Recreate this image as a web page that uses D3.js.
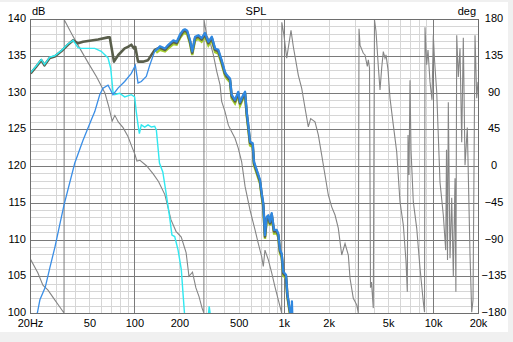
<!DOCTYPE html>
<html>
<head>
<meta charset="utf-8">
<script src="https://cdn.jsdelivr.net/npm/d3@7"></script>
<style>
  html, body { margin: 0; padding: 0; background: #f0f0f0; }
  svg { display: block; }
  text { font-family: "Liberation Sans", Arial, sans-serif; font-size: 11px; fill: #000; }
</style>
</head>
<body>
<svg id="chart" width="513" height="342"></svg>
<script>
// Axis ticks
const freqTicks = [20, 50, 100, 200, 500, 1000, 2000, 5000, 10000, 20000];
const freqLabels = ["20Hz", "50", "100", "200", "500", "1k", "2k", "5k", "10k", "20k"];
const splTicks = [100, 105, 110, 115, 120, 125, 130, 135, 140];
const phaseTicks = [-180, -135, -90, -45, 0, 45, 90, 135, 180];

// Summed response (Hz, dB)
const sumFreq = [20.2, 22.0, 23.8, 25.0, 27.1, 29.3, 32.4, 35.9, 38.9, 41.9, 45.3, 48.9, 57.1, 66.6, 68.4,
  73.0, 78, 86.1, 90.6, 95.4, 99.4, 101.5, 105.8, 114, 123.4, 136.8, 147.2,
  160.3, 168.7, 182.2, 192, 202, 212, 218, 226, 236, 244, 255, 268, 282, 297, 313, 330, 347, 365, 384,
  404, 415, 437, 448, 472, 496, 510, 536, 551, 565, 579, 595, 620, 632, 659, 694, 712, 730, 749, 769,
  789, 809, 831, 861, 898, 920, 944, 969, 994, 1036, 1057, 1090, 1114];
const sumDb = [132.6, 133.5, 134.4, 133.7, 134.7, 134.9, 135.6, 136.5, 137.1, 136.7, 136.9, 137.0, 137.2, 137.5, 137.5,
  134.2, 135.1, 136.0, 136.2, 136.5, 136.0, 136.2, 134.2, 134.2, 134.4, 135.8, 136.1,
  135.8, 136.3, 136.9, 136.7, 137.6, 138.3, 138.4, 138.2, 136.9, 135.4, 137.4, 137.6, 137.2, 137.9, 136.7, 137.4, 135.8, 135.6, 134.2,
  132.6, 132.2, 131.7, 129.5, 128.8, 129.9, 128.5, 129.5, 129.9, 127.2, 125.4, 123.1, 122.9, 120.4, 119.3, 117.9, 116.1, 114.7, 110.4, 112.9,
  113.1, 112.2, 113.4, 111.1, 111.1, 110.6, 108.4, 107.9, 105.4, 105.0, 102.5, 100.7, 99.5];

// Woofer (Hz, dB)
const wooferFreq = [20.2, 22.0, 23.8, 25.0, 27.1, 29.3, 32.4, 35.9, 38.9, 41.9, 44.0, 54.3, 60.0, 66.6, 69.4,
  71.9, 73.8, 79.6, 86.1, 95.4, 100.4, 102.9, 105.8, 108, 111.3, 117.2, 123.4, 129.9, 136.8, 140.3, 147.2,
  155.0, 163.1, 172.0, 178.5, 186.2, 196.0, 206.2, 211.6, 217.0, 240, 300, 312, 317, 324, 335];
const wooferDb = [132.7, 133.6, 134.5, 133.8, 134.8, 135.0, 135.7, 136.6, 137.1, 136.1, 136.0, 136.0, 135.6, 134.7, 133.3,
  130.1, 129.7, 129.9, 129.4, 129.7, 129.4, 127.4, 125.6, 124.4, 125.6, 125.3, 125.6, 125.3, 125.4, 124.9, 120.4,
  119.2, 116.3, 113.1, 110.6, 110.4, 108.6, 105.9, 102.7, 99.7, 95, 97.5, 99.5, 100.9, 99.5, 97.5];

// Mid driver (Hz, dB)
const midFreq = [21.5, 22.4, 23.3, 25.3, 27.2, 29.4, 31.1, 33.8, 39.9, 45.3, 51.5, 54.3, 58.6, 61.7, 66.6, 69.4,
  71.9, 77.7, 86.1, 95.4, 101.5, 105.8, 111.3, 120.2, 126.7, 136.8, 143.9, 148.4,
  160.3, 168.7, 182.2, 192, 202, 212, 218, 226, 236, 244, 255, 268, 282, 297, 313, 330, 347, 365, 384,
  404, 415, 437, 448, 472, 496, 510, 536, 551, 565, 579, 595, 620, 632, 659, 694, 712, 730, 749, 769,
  789, 809, 831, 861, 898, 920, 944, 969, 994, 1036, 1057, 1090, 1114, 1125, 1135, 1145];
const midDb = [98.5, 100.0, 101.8, 103.5, 106.2, 109.0, 111.3, 114.7, 120.4, 123.5, 126.3, 127.4, 129.7, 130.6, 131.0, 130.3,
  129.7, 130.6, 131.5, 132.6, 133.7, 131.3, 131.5, 132.2, 133.7, 135.6, 136.0, 136.3,
  136.0, 136.5, 137.1, 136.9, 137.9, 138.5, 138.6, 138.4, 137.1, 135.6, 137.6, 137.8, 137.4, 138.1, 136.9, 137.6, 136.0, 135.8, 134.4,
  132.8, 132.4, 131.9, 129.7, 129.0, 130.1, 128.7, 129.7, 130.1, 127.4, 125.6, 123.3, 123.1, 120.6, 119.5, 118.1, 116.3, 114.9, 110.6, 113.1,
  113.3, 112.4, 113.6, 111.3, 111.3, 110.8, 108.6, 108.1, 105.6, 105.2, 102.7, 100.9, 99.7, 99.0, 101.6, 99.0];

// Passive filter variant (Hz, dB)
const altFreq = [140, 148.4, 160.3, 168.7, 182.2, 192, 202, 212, 218, 226, 236, 244, 255, 268, 282, 297, 313, 330, 347, 365, 384,
  404, 415, 437, 448, 472, 496, 510, 536, 551, 565, 579, 595, 620, 632, 659, 694, 712, 730, 749, 769,
  789, 809, 831, 861, 898, 920, 944, 969, 994, 1036, 1057, 1090, 1114];
const altDb = [135.4, 135.8, 135.6, 136.0, 136.6, 136.5, 137.4, 138.0, 138.1, 137.9, 136.6, 135.1, 137.1, 137.3, 136.9, 137.6, 136.4, 137.1, 135.5, 135.3, 133.9,
  132.3, 131.9, 131.4, 129.2, 128.5, 129.6, 128.2, 129.2, 129.6, 126.9, 125.0, 122.8, 122.6, 120.1, 119.0, 117.6, 115.8, 114.3, 110.1, 112.6,
  112.8, 111.9, 113.1, 110.8, 110.8, 110.3, 108.1, 107.6, 105.1, 104.7, 102.2, 100.4, 99.2];

// Phase of the summed response (Hz, degrees)
const phaseFreq = [20, 22.6, 24.4, 26.4, 29.3, 31.5, 33.8,
  33.9, 38.0, 41.9, 49.2, 55.9, 63.6, 67.5, 71, 74, 78, 84, 90.6, 96, 101, 104, 109, 121, 134, 145, 160, 176, 190, 206,
  222, 232, 245, 258, 271, 284, 292,
  292.6, 305, 321, 338, 356, 375, 384, 404, 426, 448, 472, 496, 523, 551, 595, 642, 676, 712, 730, 749, 789, 831, 874, 920, 969,
  971, 1004, 1047, 1119, 1160, 1253, 1320, 1389, 1461, 1516, 1620, 1705, 1796, 1890, 1989, 2096, 2206, 2320, 2446, 2574, 2708, 2780, 2924, 3082, 3158,
  3193, 3244, 3412, 3502, 3630, 3686, 3754, 3812, 3872, 3944, 3980, 4054, 4150, 4300, 4414, 4530, 4644, 4768, 4842, 4994, 5150, 5420, 5710,
  6008, 6322, 6592, 6724, 6798, 6902, 7010, 7118, 7376, 7772, 8178, 8606, 8768, 8834, 9068, 9252, 9542, 9840, 10040, 10228, 10580,
  11132, 11714, 12156, 12306, 12498, 12654, 12990, 13336, 13668, 14032, 14220, 14404, 14764, 15154, 15558, 15946, 16370, 16960,
  17686, 18154, 18522, 19100, 19608, 20000];
const phaseDeg = [-113, -131, -146, -152, -164, -172, -180,
  179, 162, 148, 126, 109, 89, 72, 55, 62, 54, 47, 36, 24, 14, 6, 7, 0, -10, -19, -35, -66, -80, -87,
  -106, -135, -130, -149, -160, -174, -180,
  179, 160, 152, 136, 116, 99, 79, 67, 50, 42, 34, 22, 5, -25, -54, -78, -95, -111, -123, -103, -115, -131, -148, -164, -180,
  176, 160, 132, 166, 146, 111, 95, 71, 48, 58, 54, 38, 13.5, -11, -35.5, -50, -60, -76, -109, -95, -109, -137.5, -162, -170, -180,
  168, 148, 138, 136, 122, 130, 120, -149, -142, -164, -174, 179, 165, 122, 93, 120, 140, 132, 136, 118, 83, 50, 17.5,
  -44, -72, -117, -154, 38, -11, 105, 20, -44, -76, -125, -166.5, -179, 170, 124, 142, 103, 81, 160, 130, 91,
  -20, -60, -103, 20, -115, 78, -113, -39, -135, -15, -154, 160, 109, 144, 29, 157, 1, 47,
  -109, -179, -164, 160, 83, 103];

const svg = d3.select("#chart");
const plot = { left: 30, top: 19, right: 478, bottom: 313 };

// Panel background
svg.append("rect").attr("x", 0).attr("y", 2).attr("width", 508).attr("height", 330).attr("fill", "#ffffff");

const x = d3.scaleLog().domain([20, 20000]).range([plot.left, plot.right]);
const y = d3.scaleLinear().domain([100, 140]).range([plot.bottom, plot.top]);
const yPhase = d3.scaleLinear().domain([-180, 180]).range([plot.bottom, plot.top]);

// Grid
const grid = svg.append("g").attr("shape-rendering", "crispEdges");
const minorFreqs = [];
[10, 100, 1000, 10000].forEach(dec => {
  for (let m = 2; m <= 9; m++) {
    const f = dec * m;
    if (f > 20 && f < 20000) minorFreqs.push(f);
  }
});
const majorFreqs = [100, 1000, 10000];
const minorDb = d3.range(101, 140).filter(v => v % 5 !== 0);
const majorDb = d3.range(105, 140, 5);

grid.selectAll(".hminor").data(minorDb).join("line")
  .attr("x1", plot.left).attr("x2", plot.right)
  .attr("y1", d => Math.round(y(d)) + 0.5).attr("y2", d => Math.round(y(d)) + 0.5)
  .attr("stroke", "#d6d6d6");
grid.selectAll(".vminor").data(minorFreqs).join("line")
  .attr("x1", d => Math.round(x(d)) + 0.5).attr("x2", d => Math.round(x(d)) + 0.5)
  .attr("y1", plot.top).attr("y2", plot.bottom)
  .attr("stroke", "#d6d6d6");
grid.selectAll(".hmajor").data(majorDb).join("line")
  .attr("x1", plot.left).attr("x2", plot.right)
  .attr("y1", d => Math.round(y(d)) + 0.5).attr("y2", d => Math.round(y(d)) + 0.5)
  .attr("stroke", "#7a7a7a");
grid.selectAll(".vmajor").data(majorFreqs).join("line")
  .attr("x1", d => Math.round(x(d)) + 0.5).attr("x2", d => Math.round(x(d)) + 0.5)
  .attr("y1", plot.top).attr("y2", plot.bottom)
  .attr("stroke", "#7a7a7a");

// Curves, clipped to the plot area
svg.append("clipPath").attr("id", "plotClip")
  .append("rect").attr("x", plot.left).attr("y", plot.top)
  .attr("width", plot.right - plot.left).attr("height", plot.bottom - plot.top);
const curves = svg.append("g").attr("clip-path", "url(#plotClip)");

const zip = (fs, vs) => fs.map((f, i) => [f, vs[i]]);
const splLine = d3.line().x(d => x(d[0])).y(d => y(d[1]));
const phaseLine = d3.line().x(d => x(d[0])).y(d => yPhase(d[1]));

curves.append("path").datum(zip(phaseFreq, phaseDeg))
  .attr("d", phaseLine).attr("fill", "none").attr("stroke", "#858585").attr("stroke-width", 1.1);

curves.append("path").datum(zip(altFreq, altDb))
  .attr("d", splLine).attr("fill", "none").attr("stroke", "#a2cc2c").attr("stroke-width", 2.4);

curves.append("path").datum(zip(sumFreq, sumDb))
  .attr("d", splLine).attr("fill", "none").attr("stroke", "#595e4b").attr("stroke-width", 2.6)
  .attr("stroke-linejoin", "round");

curves.append("path").datum(zip(wooferFreq, wooferDb))
  .attr("d", splLine).attr("fill", "none").attr("stroke", "#30e8f0").attr("stroke-width", 1.4);

const mid = zip(midFreq, midDb);
curves.append("path").datum(mid.filter(d => d[0] <= 150))
  .attr("d", splLine).attr("fill", "none").attr("stroke", "#3a8ee6").attr("stroke-width", 1.3);
curves.append("path").datum(mid.filter(d => d[0] >= 136))
  .attr("d", splLine).attr("fill", "none").attr("stroke", "#2f88e0").attr("stroke-width", 2.2)
  .attr("stroke-linejoin", "round");

// Frame
svg.append("rect").attr("x", plot.left + 0.5).attr("y", plot.top + 0.5)
  .attr("width", plot.right - plot.left).attr("height", plot.bottom - plot.top)
  .attr("fill", "none").attr("stroke", "#6e6e6e");

// Axis labels
const font = "Liberation Sans, Arial, sans-serif";
const yAxis = d3.axisLeft(y).tickValues(splTicks).tickSize(0).tickPadding(4).tickFormat(d3.format("d"));
const gy = svg.append("g").attr("transform", `translate(${plot.left},-1)`).call(yAxis);
gy.select(".domain").remove();
gy.selectAll("text").style("font-size", "11px").style("font-family", font).attr("fill", "#000");

const yAxisR = d3.axisRight(yPhase).tickValues(phaseTicks).tickSize(0).tickPadding(0).tickFormat(d3.format("d"));
const gyr = svg.append("g").attr("transform", `translate(494,-1)`).call(yAxisR);
gyr.select(".domain").remove();
gyr.selectAll("text").attr("text-anchor", "middle")
  .style("font-size", "11px").style("font-family", font).attr("fill", "#000");

const xAxis = d3.axisBottom(x).tickValues(freqTicks).tickSize(0).tickPadding(6)
  .tickFormat((d, i) => freqLabels[i]);
const gx = svg.append("g").attr("transform", `translate(0,${plot.bottom})`).call(xAxis);
gx.select(".domain").remove();
gx.selectAll("text").style("font-size", "11px").style("font-family", font).attr("fill", "#000");

// Titles
svg.append("text").attr("x", 32).attr("y", 15).text("dB");
svg.append("text").attr("x", 256).attr("y", 15).attr("text-anchor", "middle").text("SPL");
svg.append("text").attr("x", 476).attr("y", 15).attr("text-anchor", "end").text("deg");
</script>
</body>
</html>
